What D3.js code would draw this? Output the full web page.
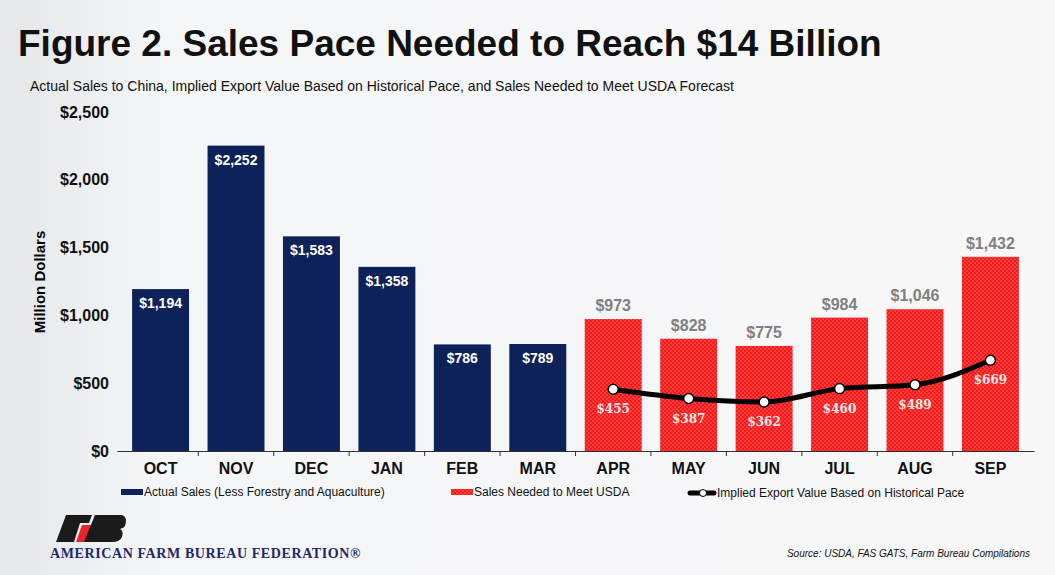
<!DOCTYPE html>
<html><head><meta charset="utf-8">
<script src="https://cdn.jsdelivr.net/npm/d3@7"></script>
<style>body{margin:0;background:#fff;font-family:"Liberation Sans",Arial,sans-serif}</style>
</head><body><div id="chart"></div>
<script>
const months = ["OCT","NOV","DEC","JAN","FEB","MAR","APR","MAY","JUN","JUL","AUG","SEP"];
const actualSales = [1194, 2252, 1583, 1358, 786, 789, null, null, null, null, null, null];
const neededSales = [null, null, null, null, null, null, 973, 828, 775, 984, 1046, 1432];
const impliedValue = [null, null, null, null, null, null, 455, 387, 362, 460, 489, 669];
const yTicks = [0, 500, 1000, 1500, 2000, 2500];

const W = 1055, H = 575;
const svg = d3.select("#chart").append("svg").attr("width", W).attr("height", H);
const defs = svg.append("defs");
const bg = defs.append("linearGradient").attr("id", "bg").attr("x1", 0).attr("x2", 1);
bg.append("stop").attr("offset", 0).attr("stop-color", "#e4e6ea");
bg.append("stop").attr("offset", 0.15).attr("stop-color", "#f4f5f7");
bg.append("stop").attr("offset", 1).attr("stop-color", "#f7f7f8");
const pat = defs.append("pattern").attr("id", "dots").attr("patternUnits", "userSpaceOnUse")
  .attr("width", 4).attr("height", 4);
pat.append("rect").attr("width", 4).attr("height", 4).attr("fill", "#f41a1a");
pat.append("circle").attr("cx", 1).attr("cy", 1).attr("r", 0.55).attr("fill", "#ffc0c0");
pat.append("circle").attr("cx", 3).attr("cy", 3).attr("r", 0.55).attr("fill", "#ffc0c0");

svg.append("rect").attr("width", W).attr("height", H).attr("fill", "url(#bg)");

svg.append("text").attr("x", 18).attr("y", 56).attr("font-size", 37).attr("font-weight", "bold")
  .attr("fill", "#111").text("Figure 2. Sales Pace Needed to Reach $14 Billion");
svg.append("text").attr("x", 30).attr("y", 91).attr("font-size", 14).attr("fill", "#111")
  .text("Actual Sales to China, Implied Export Value Based on Historical Pace, and Sales Needed to Meet USDA Forecast");

const x = d3.scaleBand().domain(months).range([117, 1034]).paddingInner(0.245).paddingOuter(0.2);
const y = d3.scaleLinear().domain([0, 2500]).range([451, 112]);
const fmt = d => "$" + d3.format(",")(d);

const ya = svg.append("g").attr("transform", "translate(117,0)")
  .call(d3.axisLeft(y).tickValues(yTicks).tickFormat(fmt).tickSize(0).tickPadding(8));
ya.select(".domain").remove();
ya.selectAll("text").attr("font-size", 16).attr("font-weight", "bold").attr("fill", "#111")
  .attr("font-family", "Liberation Sans, Arial");
svg.append("text").attr("transform", "translate(45,282) rotate(-90)").attr("text-anchor", "middle")
  .attr("font-size", 15).attr("font-weight", "bold").text("Million Dollars");

const xa = svg.append("g").attr("transform", "translate(0,451)")
  .call(d3.axisBottom(x).tickSize(0).tickPadding(12));
xa.select(".domain").attr("stroke", "#333");
xa.selectAll("text").attr("font-size", 16).attr("font-weight", "bold").attr("fill", "#111")
  .attr("font-family", "Liberation Sans, Arial");
const step = x.step();
xa.selectAll(".sep").data(months.slice(1)).enter().append("line")
  .attr("x1", d => x(d) - step * 0.1225).attr("x2", d => x(d) - step * 0.1225)
  .attr("y1", 0).attr("y2", 5).attr("stroke", "#333");

const act = months.map((m, i) => ({m, v: actualSales[i]})).filter(d => d.v != null);
svg.selectAll(".ab").data(act).enter().append("rect")
  .attr("x", d => x(d.m)).attr("width", x.bandwidth())
  .attr("y", d => y(d.v)).attr("height", d => y(0) - y(d.v)).attr("fill", "#0d2259");
svg.selectAll(".al").data(act).enter().append("text")
  .attr("x", d => x(d.m) + x.bandwidth() / 2).attr("y", d => y(d.v) + 19)
  .attr("text-anchor", "middle").attr("font-size", 14).attr("font-weight", "bold").attr("fill", "#fff")
  .text(d => fmt(d.v));

const need = months.map((m, i) => ({m, v: neededSales[i]})).filter(d => d.v != null);
svg.selectAll(".nb").data(need).enter().append("rect")
  .attr("x", d => x(d.m)).attr("width", x.bandwidth())
  .attr("y", d => y(d.v)).attr("height", d => y(0) - y(d.v)).attr("fill", "url(#dots)");
svg.selectAll(".nl").data(need).enter().append("text")
  .attr("x", d => x(d.m) + x.bandwidth() / 2).attr("y", d => y(d.v) - 8)
  .attr("text-anchor", "middle").attr("font-size", 16).attr("font-weight", "bold").attr("fill", "#7f7f7f")
  .text(d => fmt(d.v));

const imp = months.map((m, i) => ({m, v: impliedValue[i]})).filter(d => d.v != null);
const cx = d => x(d.m) + x.bandwidth() / 2;
svg.append("path").datum(imp).attr("fill", "none").attr("stroke", "#000").attr("stroke-width", 5)
  .attr("d", d3.line().x(cx).y(d => y(d.v)).curve(d3.curveMonotoneX));
svg.selectAll(".ip").data(imp).enter().append("circle")
  .attr("cx", cx).attr("cy", d => y(d.v)).attr("r", 5).attr("fill", "#fff").attr("stroke", "#000").attr("stroke-width", 1.5);
svg.selectAll(".il").data(imp).enter().append("text")
  .attr("x", cx).attr("y", d => y(d.v) + 24)
  .attr("text-anchor", "middle").attr("font-size", 12).attr("font-weight", "bold").attr("fill", "#fde8e8")
  .attr("font-family", "DejaVu Serif, serif").text(d => fmt(d.v));

// legend
const lg = svg.append("g").attr("font-size", 12).attr("fill", "#111");
lg.append("rect").attr("x", 121).attr("y", 489).attr("width", 22).attr("height", 6).attr("fill", "#0d2259");
lg.append("text").attr("x", 144).attr("y", 496).text("Actual Sales (Less Forestry and Aquaculture)");
lg.append("rect").attr("x", 451).attr("y", 489).attr("width", 22).attr("height", 6).attr("fill", "url(#dots)");
lg.append("text").attr("x", 474).attr("y", 496).text("Sales Needed to Meet USDA");
lg.append("line").attr("x1", 690).attr("x2", 714).attr("y1", 493).attr("y2", 493).attr("stroke", "#000").attr("stroke-width", 5).attr("stroke-linecap", "round");
lg.append("circle").attr("cx", 703).attr("cy", 493).attr("r", 3.5).attr("fill", "#fff").attr("stroke", "#000");
lg.append("text").attr("x", 717).attr("y", 497).text("Implied Export Value Based on Historical Pace");

// logo
const logo = svg.append("g");
logo.append("path").attr("d", "M66,515 L92,515 L89,523 L80,523 L74,542 L56,542 Z").attr("fill", "#1b1b1b");
logo.append("path").attr("d", "M82,525 L92,525 L87,542 L76,542 Z").attr("fill", "#e8252a");
logo.append("path").attr("d", "M95,515 L122,515 Q128,517 125,526 Q124,528 120,529 Q124,531 122,537 Q120,542 112,542 L84,542 Z").attr("fill", "#1b1b1b");
svg.append("text").attr("x", 50).attr("y", 558).attr("font-family", "Liberation Serif, serif")
  .attr("font-weight", "bold").attr("font-size", 14).attr("letter-spacing", 0.6).attr("fill", "#1c2a6b")
  .text("AMERICAN FARM BUREAU FEDERATION®");
svg.append("text").attr("x", 1030).attr("y", 557).attr("text-anchor", "end").attr("font-size", 10)
  .attr("font-style", "italic").attr("fill", "#111").text("Source: USDA, FAS GATS, Farm Bureau Compilations");
</script></body></html>
